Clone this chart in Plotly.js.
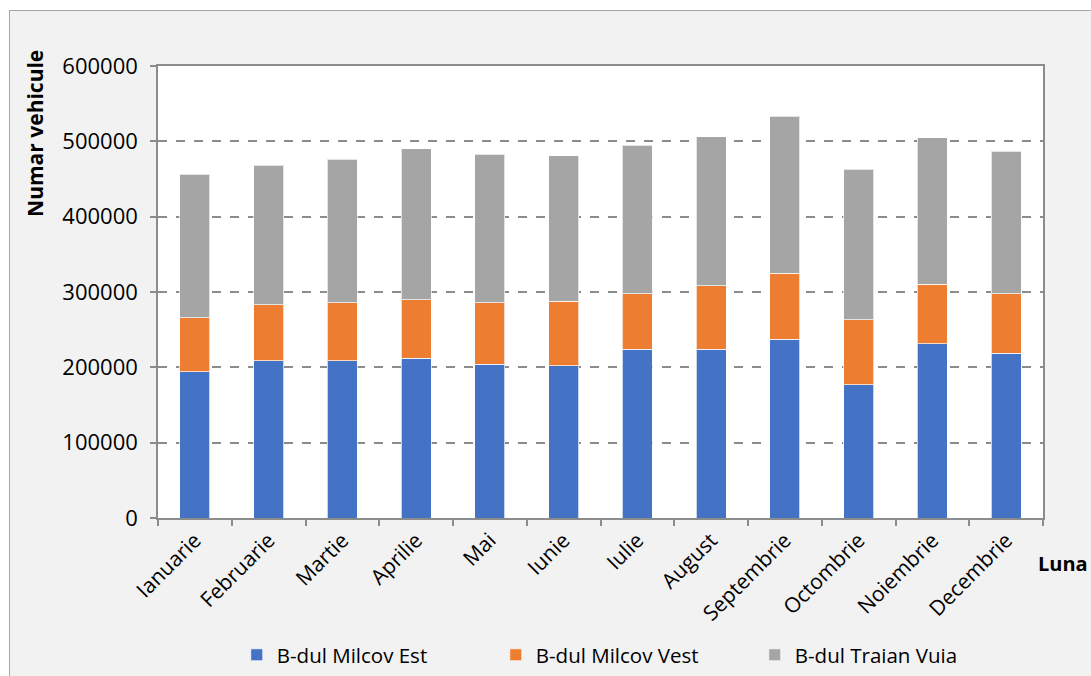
<!DOCTYPE html>
<html>
<head>
<meta charset="utf-8">
<script src="https://cdn.plot.ly/plotly-3.0.1.min.js"></script>
<style>
  html, body { margin: 0; padding: 0; background: #ffffff; overflow: hidden; }
  #wrap { position: absolute; left: 9px; top: 10px; width: 1082px; height: 666px;
          border-left: 1px solid #a6a6a6; border-top: 1px solid #a6a6a6; background: #f2f2f2; }
  #chart { width: 1081px; height: 665px; }
</style>
</head>
<body>
<div id="wrap"><div id="chart"></div></div>
<script>
const months = ["Ianuarie", "Februarie", "Martie", "Aprilie", "Mai", "Iunie", "Iulie",
                "August", "Septembrie", "Octombrie", "Noiembrie", "Decembrie"];
const milcovEst  = [194000, 209000, 209000, 212000, 204000, 202000, 224000, 224000, 237000, 177000, 231000, 219000];
const milcovVest = [72000, 74000, 77000, 78000, 82000, 86000, 74000, 84000, 88000, 86000, 79000, 79000];
const traianVuia = [190000, 185000, 190000, 200000, 197000, 193000, 197000, 198000, 208000, 200000, 195000, 189000];
const seriesNames = ["B-dul Milcov Est", "B-dul Milcov Vest", "B-dul Traian Vuia"];
const yTitle = "Numar vehicule";
const xTitle = "Luna";

const colors = ["#4472c4", "#ed7d31", "#a5a5a5"];
const FONT = "Open Sans, Noto Sans, sans-serif";
const seriesVals = [milcovEst, milcovVest, traianVuia];

const traces = seriesVals.map((vals, i) => ({
  type: "bar",
  name: seriesNames[i],
  x: months,
  y: vals,
  marker: { color: colors[i], line: { color: "rgba(255,255,255,0.7)", width: 1 } },
  hoverinfo: "x+y+name"
}));

const layout = {
  width: 1081,
  height: 665,
  paper_bgcolor: "#f2f2f2",
  plot_bgcolor: "#ffffff",
  barmode: "stack",
  bargap: 0.59,
  margin: { l: 148, r: 48, t: 55, b: 158, pad: 0, autoexpand: false },
  font: { family: FONT, size: 21, color: "#000000" },
  showlegend: true,
  legend: {
    orientation: "h",
    x: 0.089, xanchor: "left",
    y: -0.303, yanchor: "middle",
    bgcolor: "rgba(0,0,0,0)",
    font: { family: FONT, size: 20.5, color: "#000000" },
    entrywidth: 214,
    entrywidthmode: "pixels",
    traceorder: "normal",
    itemclick: false
  },
  xaxis: {
    type: "category",
    tickangle: -45,
    ticks: "outside",
    tickson: "boundaries",
    ticklen: 6,
    tickcolor: "#8c8c8c",
    tickwidth: 1.5,
    showline: true,
    linecolor: "#8c8c8c",
    linewidth: 1.5,
    mirror: true,
    showgrid: false,
    tickfont: { family: FONT, size: 21, color: "#000000" },
    automargin: false
  },
  yaxis: {
    range: [0, 600000],
    dtick: 100000,
    tickformat: "d",
    ticks: "outside",
    ticklen: 6,
    tickcolor: "#8c8c8c",
    tickwidth: 1.5,
    showline: true,
    linecolor: "#8c8c8c",
    linewidth: 1.5,
    mirror: true,
    showgrid: true,
    gridcolor: "#8c8c8c",
    gridwidth: 1.6,
    griddash: "dash",
    zeroline: false,
    ticklabelstandoff: 8,
    tickfont: { family: FONT, size: 22, color: "#000000" },
    automargin: false
  },
  annotations: [
    {
      text: "<b>" + yTitle + "</b>",
      xref: "paper", yref: "paper",
      x: -0.139, y: 0.852,
      xanchor: "center", yanchor: "middle",
      textangle: -90,
      showarrow: false,
      font: { family: FONT, size: 21, color: "#000000" }
    },
    {
      text: "<b>" + xTitle + "</b>",
      xref: "paper", yref: "paper",
      x: 1.023, y: -0.10,
      xanchor: "center", yanchor: "middle",
      showarrow: false,
      font: { family: FONT, size: 20, color: "#000000" }
    }
  ]
};

Plotly.newPlot("chart", traces, layout, { displayModeBar: false, staticPlot: false });
</script>
</body>
</html>
